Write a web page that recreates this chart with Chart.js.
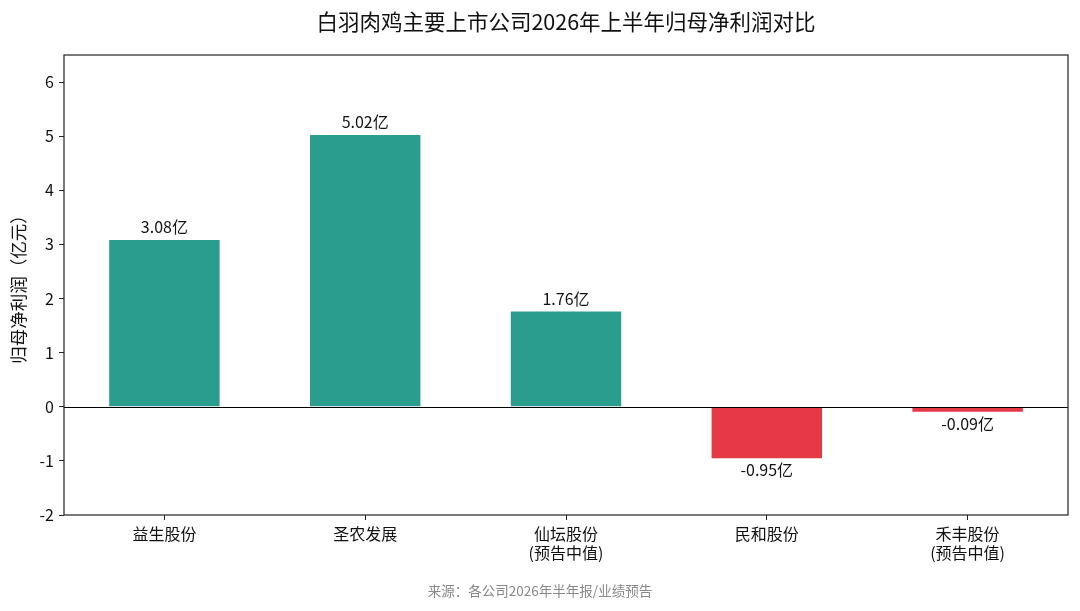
<!DOCTYPE html>
<html><head><meta charset="utf-8">
<script src="https://cdn.jsdelivr.net/npm/chart.js@4.4.1/dist/chart.umd.min.js"></script>
<style>html,body{margin:0;padding:0;background:#fff}#c{display:block}</style>
</head><body>
<canvas id="c" width="1080" height="611" style="width:1080px;height:611px"></canvas>
<script>
const categories = [['益生股份'], ['圣农发展'], ['仙坛股份','(预告中值)'], ['民和股份'], ['禾丰股份','(预告中值)']];
const profits = [3.08, 5.02, 1.76, -0.95, -0.09];
const valueLabels = ['3.08亿', '5.02亿', '1.76亿', '-0.95亿', '-0.09亿'];
const yTicks = [-2, -1, 0, 1, 2, 3, 4, 5, 6];
const titleText = '白羽肉鸡主要上市公司2026年上半年归母净利润对比';
const yTitle = '归母净利润（亿元）';
const sourceText = '来源：各公司2026年半年报/业绩预告';

const FONT = "'Noto Sans CJK SC','Noto Sans',sans-serif";
const POS = '#2a9d8f', NEG = '#e63946';

const deco = {
  id: 'deco',
  afterDatasetsDraw(chart) {
    const ctx = chart.ctx, a = chart.chartArea, y = chart.scales.y;
    ctx.save();
    ctx.strokeStyle = '#000'; ctx.lineWidth = 1.2;
    const y0 = Math.round(y.getPixelForValue(0)) + 0.5;
    ctx.beginPath(); ctx.moveTo(a.left, y0); ctx.lineTo(a.right, y0); ctx.stroke();
    ctx.strokeStyle = '#222'; ctx.lineWidth = 1.2;
    ctx.strokeRect(a.left, a.top, a.right - a.left, a.bottom - a.top);
    ctx.fillStyle = '#111'; ctx.font = '16px ' + FONT; ctx.textAlign = 'center';
    chart.getDatasetMeta(0).data.forEach((bar, i) => {
      if (profits[i] >= 0) { ctx.textBaseline = 'bottom'; ctx.fillText(valueLabels[i], bar.x, bar.y - 5); }
      else { ctx.textBaseline = 'top'; ctx.fillText(valueLabels[i], bar.x, bar.y + 4); }
    });
    ctx.font = '21.5px ' + FONT; ctx.fillStyle = '#111'; ctx.textBaseline = 'middle';
    ctx.fillText(titleText, (a.left + a.right) / 2, 22);
    ctx.font = '13.5px ' + FONT; ctx.fillStyle = '#888';
    ctx.fillText(sourceText, 540, 591);
    ctx.restore();
  }
};

new Chart(document.getElementById('c'), {
  type: 'bar',
  data: {
    labels: categories,
    datasets: [{
      data: profits,
      backgroundColor: profits.map(v => v >= 0 ? POS : NEG),
      borderWidth: 0,
      barPercentage: 0.55,
      categoryPercentage: 1.0
    }]
  },
  options: {
    responsive: false,
    animation: false,
    devicePixelRatio: 1,
    layout: { padding: { left: 0, right: 12, top: 55, bottom: 0 } },
    plugins: { legend: { display: false }, tooltip: { enabled: false }, title: { display: false } },
    scales: {
      x: {
        offset: true,
        grid: { display: true, drawOnChartArea: false, drawTicks: true, tickLength: 5, color: '#222', offset: false },
        border: { display: false },
        ticks: { color: '#111', font: { family: FONT, size: 16, lineHeight: 1.15 }, padding: 5, maxRotation: 0 },
        afterFit(s) { s.height = 96; }
      },
      y: {
        min: -2, max: 6.5,
        afterBuildTicks(s) { s.ticks = yTicks.map(v => ({ value: v })); },
        grid: { display: true, drawOnChartArea: false, drawTicks: true, tickLength: 5, color: '#222' },
        border: { display: false },
        ticks: { color: '#111', font: { family: FONT, size: 16 }, padding: 5 },
        title: { display: true, text: yTitle, color: '#111', font: { family: FONT, size: 17.5 }, padding: { top: 8, bottom: 4 } },
        afterFit(s) { s.width = 64; }
      }
    }
  },
  plugins: [deco]
});
</script>
</body></html>
